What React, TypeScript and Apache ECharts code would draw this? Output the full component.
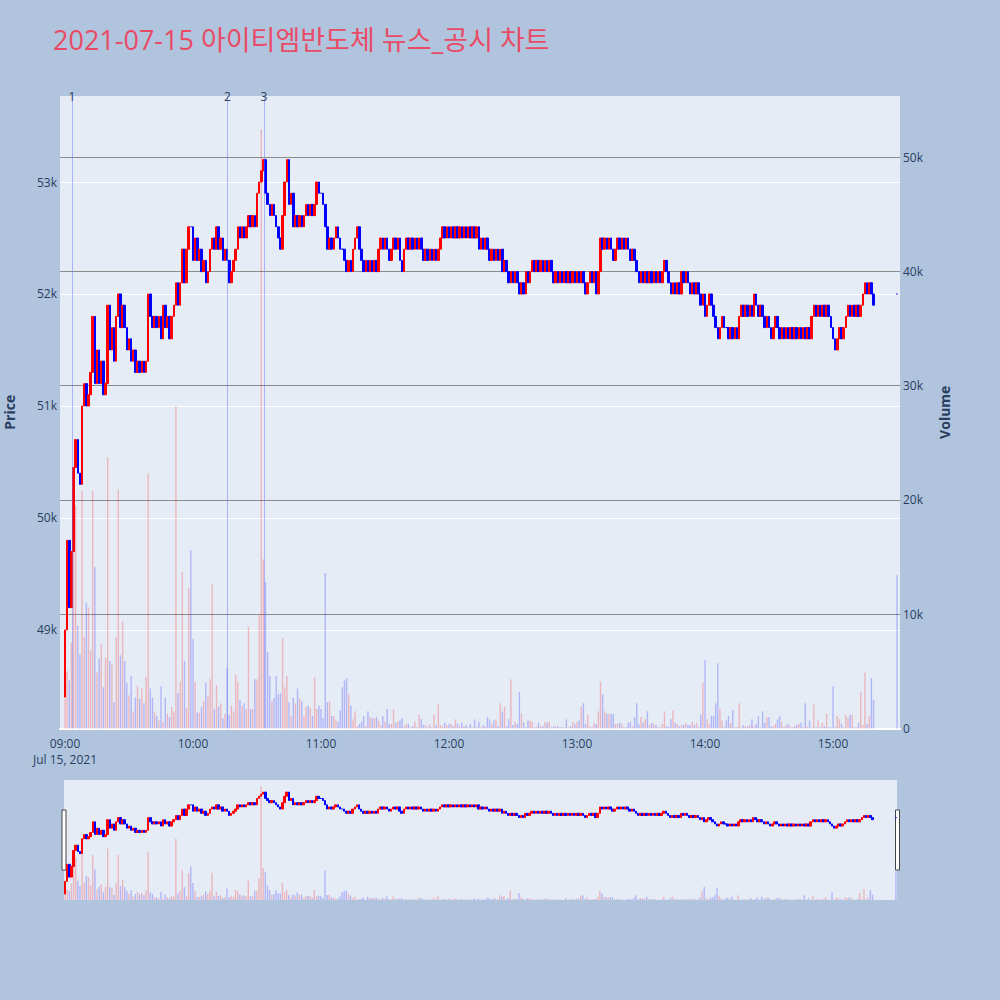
import * as echarts from "echarts";
import { useEffect, useRef } from "react";

const TITLE = "2021-07-15 아이티엠반도체 뉴스_공시 차트";
const SESSION_DATE = "Jul 15, 2021";
const FONT = '"Open Sans", "Noto Sans CJK KR", sans-serif';

// one candle per minute from 09:00 (minute 0) to 15:19, closes in units of 100 won
const firstOpen = 48400;
const closes = [
  490, 498, 492, 497, 504.5, 507, 504, 503, 510, 512,
  510, 511, 513, 518, 512, 515, 512, 514, 511, 512,
  519, 515, 517, 514, 518, 520, 517, 519, 517, 515,
  516, 514, 515, 513, 514, 513, 514, 513, 514, 520,
  518, 517, 518, 517, 518, 516, 519, 517, 518, 516,
  518, 519, 521, 519, 521, 524, 521, 524, 526, 526,
  523, 525, 523, 524, 522, 523, 521, 522, 524, 525,
  524, 526, 524, 525, 523, 524, 523, 521, 522, 523,
  524, 526, 525, 526, 525, 526, 527, 526, 527, 526,
  529, 530, 531, 532, 529, 528, 527, 528, 527, 526,
  525, 524, 527, 530, 532, 528, 529, 526, 527, 526,
  527, 526, 527, 528, 527, 528, 527, 528, 530, 529,
  529, 528, 526, 524, 525, 524, 525, 526, 525, 524,
  524, 523, 522, 523, 522, 524, 525, 526, 524, 523,
  522, 523, 522, 523, 522, 523, 522, 524, 525, 524,
  525, 524, 523, 524, 525, 524, 525, 523, 522, 524,
  525, 524, 525, 524, 525, 524, 525, 524, 523, 524,
  523, 524, 523, 524, 523, 524, 525, 526, 525, 526,
  525, 526, 525, 526, 525, 526, 525, 526, 525, 526,
  525, 526, 525, 526, 524, 525, 524, 525, 524, 523,
  524, 523, 524, 523, 524, 522, 523, 522, 521, 522,
  521, 522, 521, 520, 521, 520, 522, 521, 522, 523,
  522, 523, 522, 523, 522, 523, 522, 523, 522, 521,
  522, 521, 522, 521, 522, 521, 522, 521, 522, 521,
  522, 521, 522, 521, 520, 521, 522, 521, 522, 520,
  522, 525, 524, 525, 524, 525, 524, 523, 524, 525,
  524, 525, 524, 525, 524, 523, 524, 523, 522, 521,
  522, 521, 522, 521, 522, 521, 522, 521, 522, 521,
  522, 523, 522, 521, 520, 521, 520, 521, 520, 522,
  521, 522, 521, 520, 521, 520, 521, 520, 519, 520,
  518, 519, 520, 519, 518, 517, 516, 517, 518, 517,
  517, 516, 517, 516, 517, 516, 518, 519, 518, 519,
  518, 519, 518, 520, 519, 518, 519, 518, 517, 518,
  517, 516, 517, 518, 517, 516, 517, 516, 517, 516,
  517, 516, 517, 516, 517, 516, 517, 516, 517, 516,
  518, 519, 518, 519, 518, 519, 518, 519, 518, 517,
  516, 515, 516, 517, 516, 517, 518, 519, 518, 519,
  518, 519, 518, 519, 520, 521, 520, 521, 520, 519,
];

// volume per minute, thousands of shares
const volumes = [
  2.6, 5.0, 4.2, 7.5, 21.0, 19.5, 9.0, 6.5, 20.8, 8.0,
  11.0, 10.6, 6.8, 20.8, 14.1, 4.9, 6.1, 7.4, 3.6, 6.2,
  23.7, 5.9, 5.6, 2.3, 8.0, 20.9, 6.4, 9.4, 5.9, 4.0,
  2.9, 4.6, 1.5, 2.7, 3.7, 2.6, 3.5, 2.2, 4.5, 22.3,
  3.5, 2.7, 1.4, 1.1, 0.7, 3.7, 0.6, 2.7, 1.3, 1.0,
  1.9, 1.5, 28.2, 3.1, 4.1, 13.7, 5.9, 1.8, 12.3, 15.6,
  7.8, 4.1, 1.4, 1.4, 1.9, 2.4, 4.0, 2.8, 4.3, 12.6,
  1.7, 3.8, 1.9, 2.2, 0.9, 1.3, 5.3, 1.2, 2.0, 1.5,
  4.7, 4.1, 2.5, 2.0, 2.2, 1.7, 8.9, 1.7, 1.7, 4.3,
  4.3, 9.9, 52.4, 14.8, 12.8, 6.7, 4.6, 2.4, 2.7, 4.6,
  3.0, 3.1, 7.9, 3.6, 4.6, 2.3, 1.1, 2.7, 2.2, 3.5,
  2.6, 2.4, 1.1, 1.9, 2.0, 1.8, 1.1, 4.5, 1.7, 2.0,
  1.7, 0.9, 13.6, 2.3, 2.4, 1.1, 1.1, 0.7, 0.6, 1.6,
  3.6, 4.2, 4.4, 3.0, 2.0, 0.8, 1.5, 0.2, 0.4, 0.6,
  1.1, 0.2, 1.5, 1.0, 0.9, 0.9, 1.0, 0.7, 0.3, 1.1,
  0.6, 1.7, 0.4, 0.4, 1.7, 0.5, 0.6, 0.7, 0.9, 0.2,
  0.4, 0.4, 0.1, 0.2, 0.6, 0.1, 1.2, 0.8, 0.3, 0.3,
  0.1, 0.4, 0.1, 1.2, 0.3, 2.1, 0.3, 0.2, 0.5, 0.3,
  0.4, 0.4, 0.2, 0.8, 0.4, 0.2, 0.5, 0.2, 0.3, 0.1,
  0.4, 0.1, 0.8, 0.1, 0.6, 0.1, 0.3, 0.2, 1.0, 0.8,
  0.4, 0.7, 0.8, 0.2, 2.2, 1.5, 1.9, 0.2, 0.8, 4.3,
  0.3, 0.6, 0.4, 3.2, 1.3, 0.5, 0.1, 0.7, 0.7, 0.6,
  0.1, 0.2, 0.5, 0.2, 0.2, 0.6, 0.5, 0.6, 0.1, 0.2,
  0.2, 0.2, 0.1, 0.1, 0.1, 0.8, 0.1, 0.2, 0.6, 0.4,
  0.6, 0.7, 1.9, 2.2, 0.4, 1.2, 0.2, 0.1, 0.5, 0.4,
  1.5, 4.1, 3.0, 1.5, 1.3, 1.3, 1.3, 1.3, 0.4, 0.4,
  0.5, 0.4, 0.1, 0.1, 0.5, 0.6, 0.2, 1.0, 2.2, 0.4,
  1.0, 0.5, 0.8, 1.5, 0.3, 0.5, 0.4, 0.3, 0.1, 0.1,
  0.4, 1.5, 0.2, 0.1, 0.8, 1.6, 0.5, 0.4, 0.2, 0.3,
  0.3, 0.5, 0.3, 0.3, 0.6, 0.3, 0.5, 0.1, 1.2, 4.0,
  6.0, 0.8, 0.4, 1.1, 1.1, 2.2, 5.7, 1.7, 0.7, 0.1,
  0.7, 1.1, 0.5, 1.6, 0.1, 0.1, 2.2, 0.1, 0.3, 0.2,
  0.2, 0.3, 0.8, 0.2, 0.4, 1.1, 0.1, 1.5, 0.5, 1.0,
  1.0, 0.2, 0.2, 0.4, 0.8, 1.1, 0.6, 0.1, 0.3, 0.4,
  0.2, 0.1, 0.2, 0.3, 0.4, 0.5, 0.1, 2.2, 0.2, 0.7,
  0.1, 2.1, 0.1, 0.7, 0.1, 0.5, 0.2, 1.3, 0.1, 0.1,
  3.7, 0.1, 1.1, 0.8, 0.4, 0.1, 1.2, 0.9, 1.2, 1.2,
  0.1, 0.1, 0.5, 3.2, 0.3, 4.9, 0.4, 1.1, 4.4, 2.5,
];

// closing auction at 15:30
const auctionMinute = 390;
const auctionPrice = 52000;
const auctionVolume = 13400;

// news / disclosure markers (minutes after 09:00)
const newsMinutes = [3.3, 76.2, 93.3];
const newsLabels = ["1", "2", "3"];

const priceTicks = [49000, 50000, 51000, 52000, 53000];
const volumeTicks = [0, 10000, 20000, 30000, 40000, 50000];
const timeTicks = [0, 60, 120, 180, 240, 300, 360];

const UP = "#ff0000";
const DOWN = "#0000ff";
const UP_VOL = "rgba(255,0,0,0.23)";
const DOWN_VOL = "rgba(0,0,255,0.23)";
const LABEL = "#2a3f5f";

const PRICE_MIN = 48120;
const PRICE_MAX = 53768;
const VOL_MAX = 55340;

const minuteLabel = (m: number) => {
  const h = 9 + Math.floor(m / 60);
  const mm = m % 60;
  return `${String(h).padStart(2, "0")}:${String(mm).padStart(2, "0")}`;
};

const buildData = () => {
  const minutes = closes.map((_, i) => i).concat(auctionMinute);
  const closePx = closes.map((c) => c * 100).concat(auctionPrice);
  const openPx = [firstOpen, ...closes.map((c) => c * 100)];
  openPx[openPx.length - 1] = auctionPrice;
  const vols = volumes.map((v) => v * 1000).concat(auctionVolume);

  const candles = minutes.map((m, i) => {
    const o = openPx[i];
    const c = closePx[i];
    const item: any = { value: [m, o, c, Math.min(o, c), Math.max(o, c)] };
    if (o === c) {
      item.itemStyle = { color: DOWN, color0: DOWN, borderColor: DOWN, borderColor0: DOWN };
    }
    return item;
  });
  const bars = minutes.map((m, i) => ({
    value: [m, vols[i]],
    itemStyle: { color: closePx[i] > openPx[i] ? UP_VOL : DOWN_VOL },
  }));
  return { candles, bars };
};

export default function App() {
  const chartRef = useRef<HTMLDivElement>(null);

  useEffect(() => {
    if (!chartRef.current) return;
    const chart = echarts.init(chartRef.current, null, { renderer: "svg" });
    const { candles, bars } = buildData();

    const candleStyle = {
      color: UP,
      color0: DOWN,
      borderColor: UP,
      borderColor0: DOWN,
      borderWidth: 1,
    };

    chart.setOption({
      animation: false,
      backgroundColor: "#B0C4DE",
      textStyle: { fontFamily: FONT },
      title: {
        text: TITLE,
        left: 48,
        top: 21,
        textStyle: { color: "#E94B66", fontSize: 27, fontWeight: "normal", fontFamily: FONT },
      },
      grid: [
        {
          left: 60, top: 96, width: 840, height: 632.5,
          show: true, backgroundColor: "#E5ECF6", borderWidth: 0,
          outerBoundsMode: "none", containLabel: false,
        },
        {
          left: 64, top: 780, width: 833, height: 120,
          show: true, backgroundColor: "#E5ECF6", borderWidth: 0,
          outerBoundsMode: "none", containLabel: false,
        },
      ],
      xAxis: [
        {
          type: "value",
          gridIndex: 0,
          min: -2.34,
          max: 391.4,
          axisLine: { show: true, onZero: false, lineStyle: { color: "#ffffff", width: 2 } },
          axisTick: { show: false },
          splitLine: { show: false },
          axisLabel: {
            customValues: timeTicks,
            color: LABEL,
            fontSize: 12,
            margin: 7,
            lineHeight: 16,
            formatter: (v: number) => (v === 0 ? `${minuteLabel(v)}\n${SESSION_DATE}` : minuteLabel(v)),
          },
        },
        { type: "value", gridIndex: 1, min: -0.5, max: 390.5, show: false },
      ],
      yAxis: [
        {
          type: "value",
          gridIndex: 0,
          position: "left",
          min: PRICE_MIN,
          max: PRICE_MAX,
          name: "Price",
          nameLocation: "middle",
          nameGap: 44,
          nameTextStyle: { color: LABEL, fontSize: 14, fontWeight: "bold" },
          axisLine: { show: false },
          axisTick: { show: false, customValues: priceTicks },
          axisLabel: {
            customValues: priceTicks,
            color: LABEL,
            fontSize: 12,
            margin: 3,
            formatter: (v: number) => `${v / 1000}k`,
          },
          splitLine: { show: true, lineStyle: { color: "#ffffff", width: 1 } },
        },
        {
          type: "value",
          gridIndex: 0,
          position: "right",
          min: 0,
          max: VOL_MAX,
          name: "Volume",
          nameLocation: "middle",
          nameGap: 37,
          nameRotate: 90,
          nameTextStyle: { color: LABEL, fontSize: 14, fontWeight: "bold" },
          axisLine: { show: false },
          axisTick: { show: false, customValues: volumeTicks },
          axisLabel: {
            customValues: volumeTicks,
            color: LABEL,
            fontSize: 12,
            margin: 3,
            formatter: (v: number) => (v === 0 ? "0" : `${v / 1000}k`),
          },
          splitLine: { show: true, lineStyle: { color: "#8c8c8c", width: 1.2 } },
        },
        { type: "value", gridIndex: 1, min: PRICE_MIN, max: PRICE_MAX, show: false },
        { type: "value", gridIndex: 1, min: 0, max: VOL_MAX, show: false },
      ],
      series: [
        {
          name: "Volume",
          type: "bar",
          xAxisIndex: 0,
          yAxisIndex: 1,
          barWidth: 1.4,
          z: 1,
          data: bars,
        },
        {
          name: "Price",
          type: "candlestick",
          xAxisIndex: 0,
          yAxisIndex: 0,
          barWidth: 2,
          z: 2,
          encode: { x: 0, y: [1, 2, 3, 4] },
          itemStyle: candleStyle,
          data: candles,
          markLine: {
            symbol: "none",
            silent: true,
            animation: false,
            lineStyle: { color: "rgba(99,110,250,0.45)", width: 1, type: "solid" },
            label: {
              show: true,
              position: "end",
              distance: -6,
              color: LABEL,
              fontSize: 12,
              formatter: (p: any) => p.name,
            },
            data: newsMinutes.map((m, i) => ({ name: newsLabels[i], xAxis: m })),
          },
        },
        {
          name: "VolumeMini",
          type: "bar",
          xAxisIndex: 1,
          yAxisIndex: 3,
          barWidth: 1.4,
          z: 1,
          data: bars,
        },
        {
          name: "PriceMini",
          type: "candlestick",
          xAxisIndex: 1,
          yAxisIndex: 2,
          barWidth: 2,
          z: 2,
          encode: { x: 0, y: [1, 2, 3, 4] },
          itemStyle: candleStyle,
          data: candles,
        },
      ],
      graphic: [
        { type: "rect", shape: { x: 62, y: 810, width: 4, height: 60 }, style: { fill: "#ffffff", stroke: "#444444", lineWidth: 1 } },
        { type: "rect", shape: { x: 895.5, y: 810, width: 4, height: 60 }, style: { fill: "#ffffff", stroke: "#444444", lineWidth: 1 } },
      ],
    });

    return () => {
      chart.dispose();
    };
  }, []);

  return (
    <div
      ref={chartRef}
      style={{ position: "fixed", left: 0, top: 0, width: "1000px", height: "1000px" }}
    />
  );
}
